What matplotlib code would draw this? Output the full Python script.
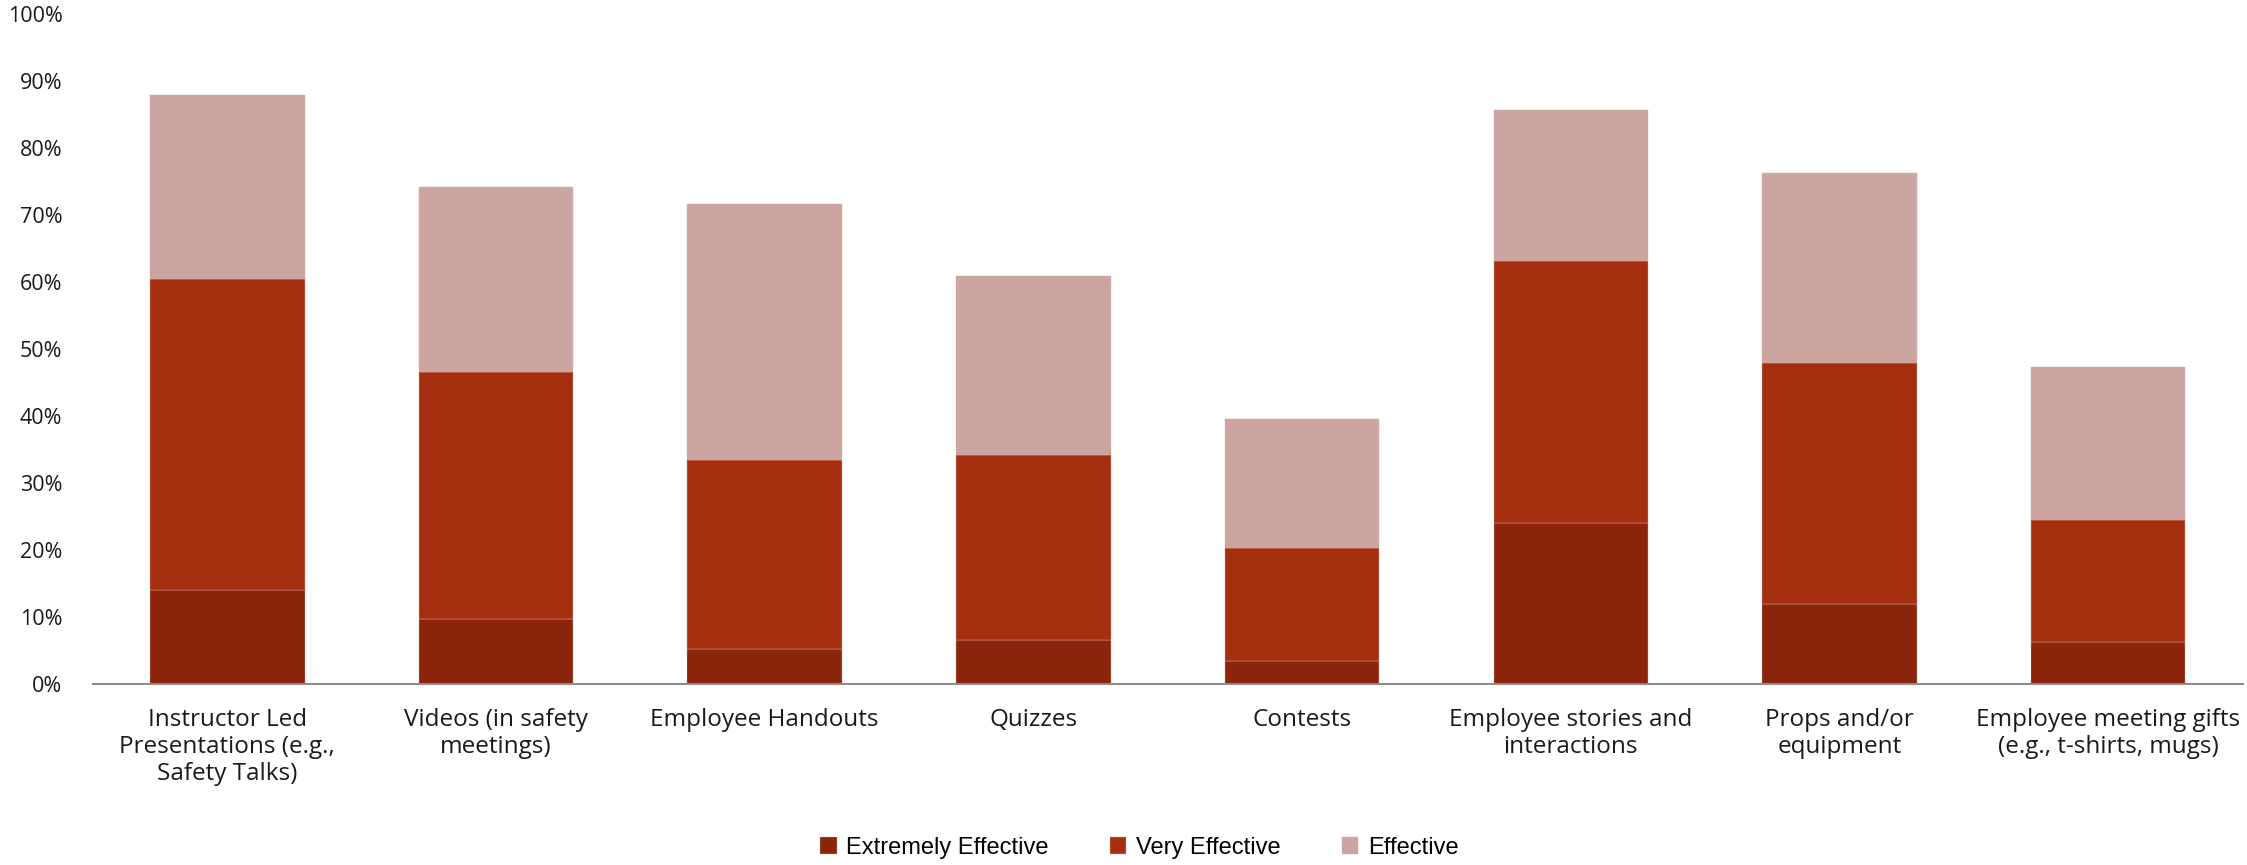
import matplotlib.pyplot as plt
import numpy as np
from matplotlib.ticker import FuncFormatter

# Data (percent of respondents)
categories = ['Instructor Led\nPresentations (e.g.,\nSafety Talks)',
              'Videos (in safety\nmeetings)',
              'Employee Handouts',
              'Quizzes',
              'Contests',
              'Employee stories and\ninteractions',
              'Props and/or\nequipment',
              'Employee meeting gifts\n(e.g., t-shirts, mugs)']
extremely_effective = [14.1, 9.7, 5.3, 6.6, 3.4, 24.1, 11.9, 6.3]
very_effective = [46.3, 36.9, 28.2, 27.6, 16.9, 39.0, 36.0, 18.2]
effective = [27.5, 27.6, 38.2, 26.7, 19.2, 22.6, 28.4, 22.8]
series_names = ['Extremely Effective', 'Very Effective', 'Effective']
colors = ['#8A240A', '#A52F10', '#CCA5A0']

fig = plt.figure(figsize=(22.47, 8.65), dpi=100)
ax = fig.add_axes([0.0414, 0.2092, 0.9566, 0.7746])

x = np.arange(len(categories))
width = 0.575
bottom = np.zeros(len(categories))
for vals, name, col in zip([extremely_effective, very_effective, effective], series_names, colors):
    ax.bar(x, vals, width, bottom=bottom, color=col, label=name,
           edgecolor='#d9aaa0', linewidth=0.3)
    bottom += np.array(vals)

ax.set_xlim(-0.5, len(categories) - 0.5)
ax.set_ylim(0, 100)
ax.set_yticks(np.arange(0, 101, 10))
ax.yaxis.set_major_formatter(FuncFormatter(lambda v, p: f'{int(v)}%'))
ax.set_xticks(x)
ax.set_xticklabels(categories, fontsize=17.5, family='Open Sans', linespacing=1.18)
for lab in ax.get_yticklabels():
    lab.set_fontsize(15.5)
    lab.set_family('Open Sans')
ax.tick_params(axis='y', length=0, pad=22, colors='#1a1a1a')
ax.tick_params(axis='x', length=0, pad=17, colors='#1a1a1a')

for s in ['top', 'right', 'left']:
    ax.spines[s].set_visible(False)
ax.spines['bottom'].set_color('#8c8c8c')
ax.spines['bottom'].set_linewidth(1.5)

fig.legend(loc='center', bbox_to_anchor=(0.507, 0.02), ncol=3, frameon=False,
           prop={'family': ['Liberation Sans Narrow', 'Liberation Sans'], 'size': 17},
           handlelength=0.7, handleheight=0.7, handletextpad=0.4, columnspacing=2.6)

plt.savefig('out.png', dpi=100)
plt.close()
